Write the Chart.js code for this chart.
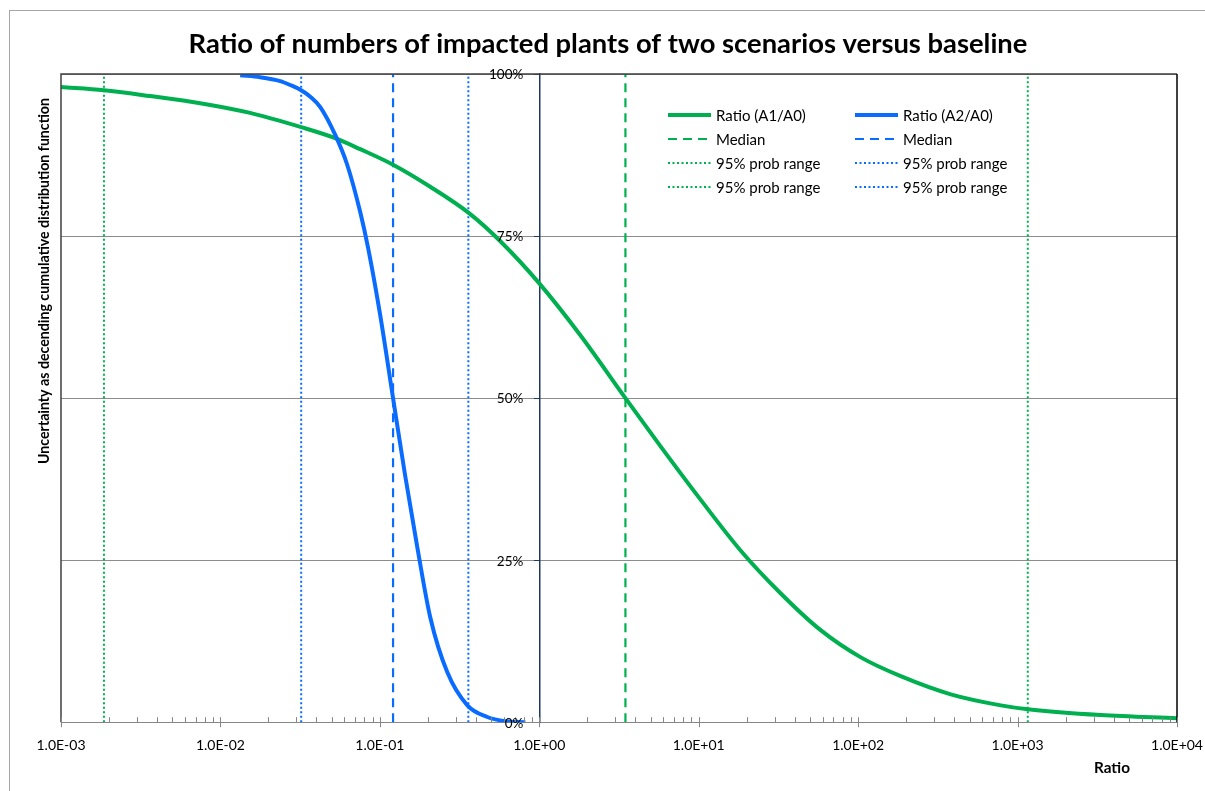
<!DOCTYPE html>
<html>
<head>
<meta charset="utf-8">
<script src="https://cdn.jsdelivr.net/npm/chart.js@4.4.1/dist/chart.umd.min.js"></script>
<style>
html,body{margin:0;padding:0;background:#fff;}
#wrap{position:relative;width:1205px;height:791px;}
canvas{display:block;}
</style>
</head>
<body>
<div id="wrap"><canvas id="c" width="1205" height="791"></canvas></div>
<script>
// ---- texts ----
const titleText = 'Ratio of numbers of impacted plants of two scenarios versus baseline';
const yTitleText = 'Uncertainty as decending cumulative distribution function';
const xTitleText = 'Ratio';

// ---- ticks ----
const xMajorTicks = [1e-3, 1e-2, 1e-1, 1, 10, 100, 1000, 10000];
const xTickLabels = ['1.0E-03', '1.0E-02', '1.0E-01', '1.0E+00', '1.0E+01', '1.0E+02', '1.0E+03', '1.0E+04'];
const xMinorMultipliers = [2, 3, 4, 5, 6, 7, 8, 9];
const yTicks = [0, 25, 50, 75, 100];
const yTickLabels = ['0%', '25%', '50%', '75%', '100%'];

// ---- series: Ratio (A1/A0) ----
const a1Ratio = [0.001, 0.00186, 0.00362, 0.00746, 0.01535, 0.0321, 0.0525, 0.0753, 0.121, 0.207, 0.364, 0.570, 1.0, 1.81, 3.47, 5.75, 10.3, 18.3, 32.6, 58.2, 104, 185, 381, 785, 1159, 3327, 10000];
const a1Prob  = [98.0, 97.5, 96.6, 95.5, 94.0, 91.8, 90.1, 88.4, 86.0, 82.6, 78.5, 74.2, 67.7, 59.7, 50.0, 42.6, 34.3, 26.5, 19.9, 14.2, 10.0, 7.1, 4.3, 2.6, 2.0, 1.1, 0.6];

// ---- series: Ratio (A2/A0) ----
const a2Ratio = [0.0133, 0.01775, 0.0237, 0.0274, 0.0321, 0.0366, 0.0423, 0.0525, 0.0624, 0.0753, 0.0845, 0.1005, 0.121, 0.144, 0.172, 0.207, 0.265, 0.354, 0.472, 0.612, 0.818];
const a2Prob  = [99.8, 99.5, 98.9, 98.3, 97.5, 96.5, 94.9, 90.6, 86.0, 78.7, 73.1, 62.8, 50.0, 38.1, 26.9, 16.2, 7.7, 2.6, 0.8, 0.15, 0.0];

// ---- medians and 95% ranges ----
const a1Median = 3.47;
const a1Range = [0.00186, 1159];
const a2Median = 0.121;
const a2Range = [0.0321, 0.359];

const seriesNames = ['Ratio (A1/A0)', 'Ratio (A2/A0)', 'Median', 'Median', '95% prob range', '95% prob range', '95% prob range', '95% prob range'];

const GREEN = '#00B050';
const BLUE = '#0A6CFF';

const toPts = (xs, ys) => xs.map((v, i) => ({x: v, y: ys[i]}));
const vline = v => [{x: v, y: 0}, {x: v, y: 100}];

const curveStyle = {pointRadius: 0, borderWidth: 4, fill: false, cubicInterpolationMode: 'monotone'};
const dashStyle = {pointRadius: 0, borderWidth: 2.2, fill: false, borderDash: [9, 6]};
const dotStyle = {pointRadius: 0, borderWidth: 2, fill: false, borderDash: [2, 2.5]};

const datasets = [
  Object.assign({label: seriesNames[0], data: toPts(a1Ratio, a1Prob), borderColor: GREEN, order: 1}, curveStyle),
  Object.assign({label: seriesNames[1], data: toPts(a2Ratio, a2Prob), borderColor: BLUE, order: 0}, curveStyle),
  Object.assign({label: seriesNames[2], data: vline(a1Median), borderColor: GREEN, order: 2}, dashStyle),
  Object.assign({label: seriesNames[3], data: vline(a2Median), borderColor: BLUE, order: 2}, dashStyle),
  Object.assign({label: seriesNames[4], data: vline(a1Range[0]), borderColor: GREEN, order: 2}, dotStyle),
  Object.assign({label: seriesNames[5], data: vline(a2Range[0]), borderColor: BLUE, order: 2}, dotStyle),
  Object.assign({label: seriesNames[6], data: vline(a1Range[1]), borderColor: GREEN, order: 2}, dotStyle),
  Object.assign({label: seriesNames[7], data: vline(a2Range[1]), borderColor: BLUE, order: 2}, dotStyle)
];

const FONT = 'Lato, "Open Sans", sans-serif';
const isMajor = v => xMajorTicks.some(m => Math.abs(m - v) / m < 1e-9);

// set a font whose rendered width of `text` equals `width`
function fitFont(ctx, text, weight, width) {
  ctx.font = weight + ' 20px ' + FONT;
  const w = ctx.measureText(text).width;
  const size = 20 * width / w;
  ctx.font = weight + ' ' + size.toFixed(2) + 'px ' + FONT;
}

const decor = {
  id: 'decor',
  beforeDraw(chart) {
    const ctx = chart.ctx;
    ctx.save();
    ctx.fillStyle = '#fff';
    ctx.fillRect(0, 0, chart.width, chart.height);
    ctx.strokeStyle = '#a6a6a6';
    ctx.lineWidth = 1;
    ctx.strokeRect(9.5, 10.5, chart.width, chart.height);
    ctx.restore();
  },
  afterDraw(chart) {
    const {ctx, chartArea: a, scales: {x, y}} = chart;
    ctx.save();
    // plot-area frame
    ctx.lineWidth = 1.5;
    ctx.strokeStyle = '#404040';
    ctx.beginPath();
    ctx.moveTo(a.left, a.bottom);
    ctx.lineTo(a.left, a.top);
    ctx.lineTo(a.right, a.top);
    ctx.stroke();
    ctx.strokeStyle = '#000';
    ctx.beginPath();
    ctx.moveTo(a.right, a.top);
    ctx.lineTo(a.right, a.bottom);
    ctx.stroke();
    // x tick marks (major cross, minor inside)
    ctx.strokeStyle = '#868686';
    ctx.lineWidth = 1;
    x.ticks.forEach(t => {
      const px = Math.round(x.getPixelForValue(t.value)) + 0.5;
      const maj = isMajor(t.value);
      ctx.beginPath();
      ctx.moveTo(px, a.bottom - 5);
      ctx.lineTo(px, maj ? a.bottom + 5 : a.bottom);
      ctx.stroke();
    });
    // y tick labels, left of the axis that crosses at ratio 1
    const axisX = x.getPixelForValue(1);
    ctx.fillStyle = '#000';
    ctx.font = '13.5px ' + FONT;
    ctx.textAlign = 'right';
    ctx.textBaseline = 'middle';
    yTicks.forEach((v, i) => ctx.fillText(yTickLabels[i], axisX - 16, y.getPixelForValue(v) + 1));
    // title
    ctx.textAlign = 'center';
    fitFont(ctx, titleText, 'bold', 839);
    ctx.fillText(titleText, 608, 44);
    // x title
    fitFont(ctx, xTitleText, 'bold', 36);
    ctx.fillText(xTitleText, 1112, 768);
    // y title
    ctx.save();
    ctx.translate(44, 281);
    ctx.rotate(-Math.PI / 2);
    fitFont(ctx, yTitleText, 'bold', 366);
    ctx.fillText(yTitleText, 0, 0);
    ctx.restore();
    // legend (two columns)
    const colX = [668, 855];
    const rowY = [115, 139, 163, 187];
    ctx.font = '15px ' + FONT;
    ctx.textAlign = 'left';
    chart.data.datasets.forEach((ds, i) => {
      const cx = colX[i % 2];
      const cy = rowY[Math.floor(i / 2)];
      ctx.strokeStyle = ds.borderColor;
      ctx.lineWidth = ds.borderWidth;
      ctx.setLineDash(ds.borderDash || []);
      ctx.beginPath();
      ctx.moveTo(cx, cy);
      ctx.lineTo(cx + 43, cy);
      ctx.stroke();
      ctx.setLineDash([]);
      ctx.fillStyle = '#000';
      ctx.fillText(ds.label, cx + 48, cy + 1);
    });
    ctx.restore();
  }
};

new Chart(document.getElementById('c'), {
  type: 'line',
  data: {datasets},
  options: {
    responsive: false,
    animation: false,
    devicePixelRatio: 1,
    layout: {padding: {left: 61, right: 28, top: 74, bottom: 22}},
    plugins: {legend: {display: false}, title: {display: false}, tooltip: {enabled: false}},
    scales: {
      x: {
        type: 'logarithmic',
        min: xMajorTicks[0],
        max: xMajorTicks[xMajorTicks.length - 1],
        afterBuildTicks: s => {
          const t = [];
          xMajorTicks.forEach((m, i) => {
            t.push({value: m});
            if (i < xMajorTicks.length - 1) xMinorMultipliers.forEach(k => t.push({value: m * k}));
          });
          s.ticks = t;
        },
        afterFit: s => { s.paddingLeft = 0; s.paddingRight = 0; },
        ticks: {
          autoSkip: false,
          maxRotation: 0,
          padding: 15,
          color: '#000',
          font: {family: FONT, size: 14},
          callback: v => {
            const k = xMajorTicks.findIndex(m => Math.abs(m - v) / m < 1e-9);
            return k >= 0 ? xTickLabels[k] : '';
          }
        },
        grid: {display: false, drawTicks: false},
        border: {display: true, color: '#868686', width: 1}
      },
      y: {
        type: 'linear',
        position: {x: 1},
        min: 0,
        max: 100,
        afterBuildTicks: s => { s.ticks = yTicks.map(v => ({value: v})); },
        afterFit: s => { s.paddingTop = 0; s.paddingBottom = 0; },
        ticks: {display: false},
        grid: {color: '#8c8c8c', lineWidth: 1, drawTicks: true, tickLength: 5, tickColor: '#203864'},
        border: {display: true, color: '#203864', width: 1.5}
      }
    }
  },
  plugins: [decor]
});
</script>
</body>
</html>
